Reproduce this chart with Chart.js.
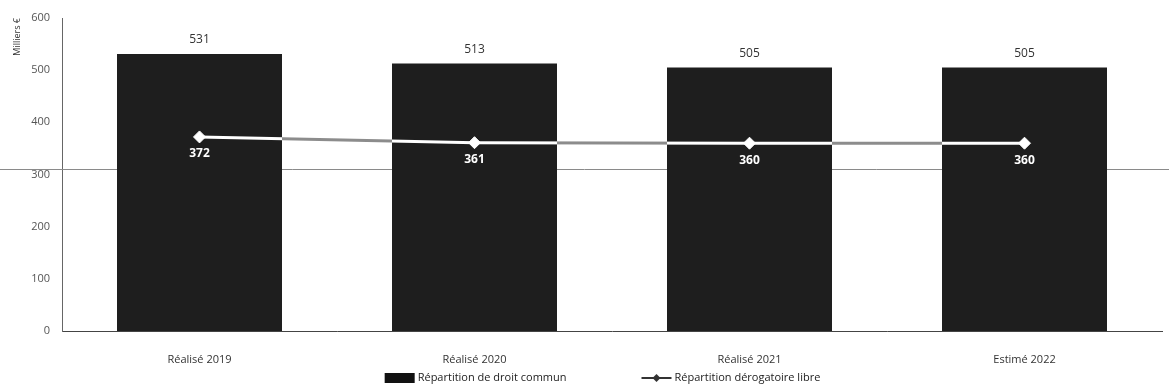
<!DOCTYPE html>
<html lang="fr">
<head>
<meta charset="utf-8">
<title>Répartition</title>
<script src="https://cdn.jsdelivr.net/npm/chart.js@4/dist/chart.umd.min.js"></script>
<style>
  html, body { margin: 0; padding: 0; background: #fff; }
  #wrap { width: 1169px; height: 390px; position: relative; }
</style>
</head>
<body>
<div id="wrap"><canvas id="chart" width="1169" height="390"></canvas></div>
<script>
// Categories and series (milliers d'euros)
const categories = ['Réalisé 2019', 'Réalisé 2020', 'Réalisé 2021', 'Estimé 2022'];
const droitCommun = [531, 513, 505, 505];
const derogatoireLibre = [372, 361, 360, 360];
const yTicks = [0, 100, 200, 300, 400, 500, 600];

const FONT = '"Open Sans", "Liberation Sans", sans-serif';
const BAR_PCT = 0.6;
const BAR_COLOR = '#1e1e1e';
const GAP_COLOR = '#8c8c8c';

// Stroke for the libre series: white across the bars, grey in between
function lineStroke(chart) {
  const x = chart.scales && chart.scales.x;
  const area = chart.chartArea;
  if (!x || !area) return '#ffffff';
  const w = area.right - area.left;
  const step = x.width / categories.length;
  const g = chart.ctx.createLinearGradient(area.left, 0, area.right, 0);
  g.addColorStop(0, GAP_COLOR);
  categories.forEach((c, i) => {
    const cx = x.getPixelForValue(i);
    const a = Math.min(Math.max((cx - step * BAR_PCT / 2 - area.left) / w, 0), 1);
    const b = Math.min(Math.max((cx + step * BAR_PCT / 2 - area.left) / w, 0), 1);
    g.addColorStop(a, GAP_COLOR);
    g.addColorStop(a, '#ffffff');
    g.addColorStop(b, '#ffffff');
    g.addColorStop(b, GAP_COLOR);
  });
  g.addColorStop(1, GAP_COLOR);
  return g;
}

// Thin rule across the page behind the bars
const ruleLevel = 310;
const rulePlugin = {
  id: 'rule',
  beforeDatasetsDraw(chart) {
    const y = chart.scales.y.getPixelForValue(ruleLevel);
    const ctx = chart.ctx;
    ctx.save();
    ctx.strokeStyle = '#8a8a8a';
    ctx.lineWidth = 1;
    ctx.beginPath();
    ctx.moveTo(0, Math.round(y) + 0.5);
    ctx.lineTo(chart.width, Math.round(y) + 0.5);
    ctx.stroke();
    ctx.restore();
  }
};

// Value labels: above the bars, under the line points
const valueLabels = {
  id: 'valueLabels',
  afterDatasetsDraw(chart) {
    const ctx = chart.ctx;
    ctx.save();
    ctx.textAlign = 'center';
    ctx.textBaseline = 'middle';
    ctx.font = '12px ' + FONT;
    ctx.fillStyle = '#333';
    chart.getDatasetMeta(1).data.forEach((bar, i) => {
      ctx.fillText(String(droitCommun[i]), bar.x, bar.y - 14);
    });
    ctx.font = 'bold 12px ' + FONT;
    ctx.fillStyle = '#ffffff';
    chart.getDatasetMeta(0).data.forEach((pt, i) => {
      ctx.fillText(String(derogatoireLibre[i]), pt.x, pt.y + 17);
    });
    ctx.restore();
  }
};

// Legend row under the axis: bar swatch, then line-with-diamond swatch
const legendRow = {
  id: 'legendRow',
  afterDraw(chart) {
    const ctx = chart.ctx;
    const items = [
      { label: chart.data.datasets[1].label, kind: 'bar' },
      { label: chart.data.datasets[0].label, kind: 'line' }
    ];
    const sw = 30, textGap = 3, itemGap = 75;
    ctx.save();
    ctx.font = '11px ' + FONT;
    const widths = items.map(it => sw + textGap + ctx.measureText(it.label).width);
    const total = widths.reduce((a, b) => a + b, 0) + itemGap * (items.length - 1);
    let x = (chart.width - total) / 2 + 18;
    const y = chart.height - 12;
    items.forEach((it, i) => {
      if (it.kind === 'bar') {
        ctx.fillStyle = '#111';
        ctx.fillRect(x, y - 5, sw, 10);
      } else {
        ctx.strokeStyle = '#333';
        ctx.lineWidth = 2;
        ctx.beginPath(); ctx.moveTo(x, y); ctx.lineTo(x + sw, y); ctx.stroke();
        ctx.fillStyle = '#333';
        const cx = x + sw / 2;
        ctx.beginPath();
        ctx.moveTo(cx, y - 4); ctx.lineTo(cx + 4, y); ctx.lineTo(cx, y + 4); ctx.lineTo(cx - 4, y);
        ctx.closePath(); ctx.fill();
      }
      ctx.fillStyle = '#222';
      ctx.textAlign = 'left';
      ctx.textBaseline = 'middle';
      ctx.fillText(it.label, x + sw + textGap, y);
      x += widths[i] + itemGap;
    });
    ctx.restore();
  }
};

new Chart(document.getElementById('chart'), {
  data: {
    labels: categories,
    datasets: [
      {
        type: 'line',
        label: 'Répartition dérogatoire libre',
        data: derogatoireLibre,
        order: 0,
        borderColor: ctx => lineStroke(ctx.chart),
        borderWidth: 3,
        pointStyle: 'rectRot',
        pointRadius: 6,
        pointBackgroundColor: '#ffffff',
        pointBorderColor: '#ffffff',
        pointBorderWidth: 1,
        tension: 0
      },
      {
        type: 'bar',
        label: 'Répartition de droit commun',
        data: droitCommun,
        order: 1,
        backgroundColor: BAR_COLOR,
        borderWidth: 0,
        categoryPercentage: 1,
        barPercentage: BAR_PCT
      }
    ]
  },
  options: {
    responsive: false,
    animation: false,
    layout: { padding: { top: 18, right: 0, left: 12, bottom: 26 } },
    scales: {
      x: {
        grid: { display: false },
        border: { display: true, color: '#444', dash: [2, 2], width: 1 },
        ticks: { color: '#333', font: { family: FONT, size: 11 }, padding: 14 },
        afterFit: s => { s.height = 33; }
      },
      y: {
        min: 0,
        max: 600,
        afterBuildTicks: s => { s.ticks = yTicks.map(v => ({ value: v })); },
        grid: { display: false },
        border: { display: true, color: '#666', dash: [1, 3], width: 1 },
        ticks: { color: '#555', font: { family: FONT, size: 11 }, padding: 4 },
        title: {
          display: true, text: 'Milliers €', align: 'end',
          color: '#333', font: { family: FONT, size: 9 }, padding: { top: 0, bottom: 2 }
        },
        afterFit: s => { s.width = 50; }
      }
    },
    plugins: {
      tooltip: { enabled: false },
      legend: { display: false }
    }
  },
  plugins: [rulePlugin, valueLabels, legendRow]
});
</script>
</body>
</html>
